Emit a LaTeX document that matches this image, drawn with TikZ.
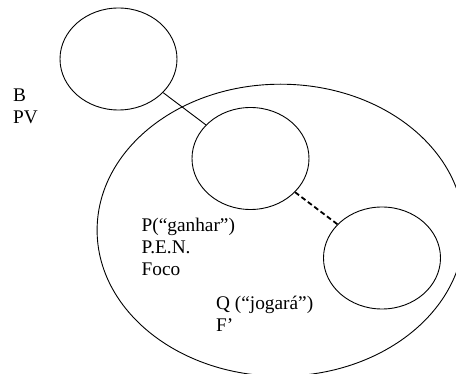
\documentclass[tikz,border=0pt]{standalone}
\usepackage{fontspec}
\setmainfont{Liberation Serif}
\usetikzlibrary{shapes.geometric}
\begin{document}
\begin{tikzpicture}[x=1pt,y=-1pt,
  oval/.style={ellipse, draw, line width=0.9pt, inner sep=0pt, minimum width=117pt, minimum height=102pt},
  lbl/.style={anchor=base west, inner sep=0pt, font=\fontsize{19.3}{22}\selectfont}]
\useasboundingbox (0,0) rectangle (456,374);
\clip (0,0) rectangle (456,374);
\node[oval, minimum width=367pt, minimum height=292pt] (big) at (280.6,230.2) {};
\node[oval] (a) at (118.5,59) {};
\node[oval] (b) at (250.5,158.5) {};
\node[oval] (c) at (382,258) {};
\draw[line width=0.9pt] (a) -- (b);
\draw[line width=1.8pt, dash pattern=on 5pt off 3pt] (b) -- (c);
\node[lbl] (tB) at (13,102) {B};
\node[lbl] (tPV) at (13,124) {PV};
\node[lbl] (tP) at (141.5,231.5) {P(“ganhar”)};
\node[lbl] (tPEN) at (141.5,253.3) {P.E.N.};
\node[lbl] (tFoco) at (141.5,275.5) {Foco};
\node[lbl] (tQ) at (216,310) {Q (“jogará”)};
\node[lbl] (tF) at (216,331.7) {F’};
\end{tikzpicture}
\end{document}
